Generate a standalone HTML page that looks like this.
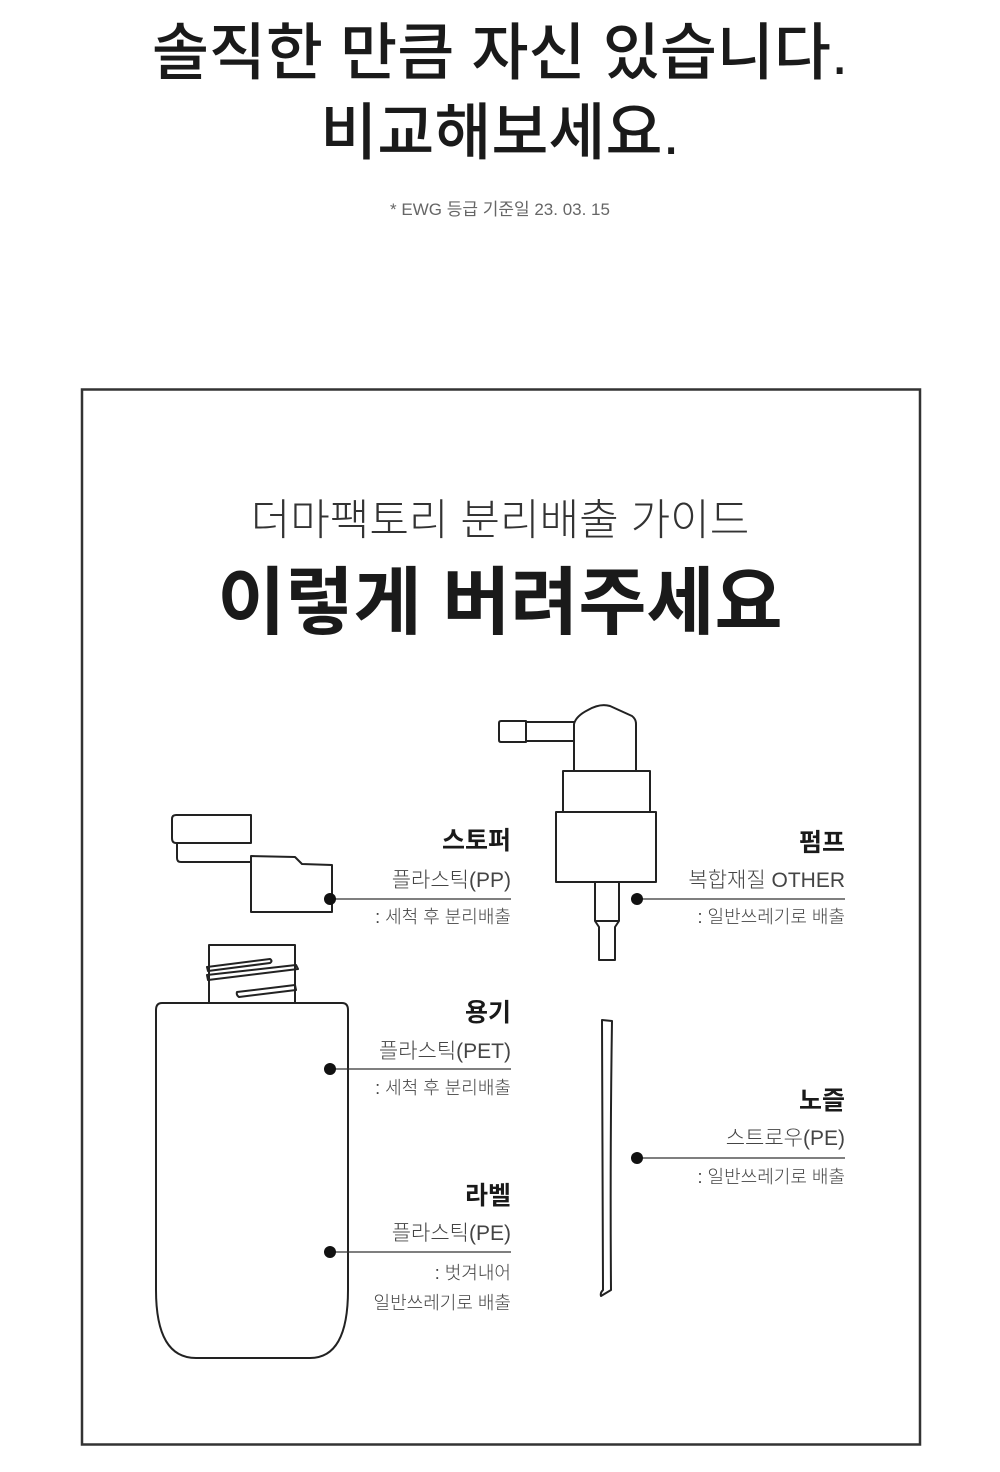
<!DOCTYPE html>
<html><head><meta charset="utf-8"><style>
html,body{margin:0;padding:0;background:#fff;}
svg{display:block;}
text{font-family:"Liberation Sans","Noto Sans CJK KR",sans-serif;}
</style></head><body>
<svg width="1000" height="1472" viewBox="0 0 1000 1472" xmlns="http://www.w3.org/2000/svg">
<g fill="#222" text-anchor="middle">
<text x="500" y="74" font-size="62" font-weight="500" fill="#1a1a1a">솔직한 만큼 자신 있습니다.</text>
<text x="500" y="154" font-size="62" font-weight="500" fill="#1a1a1a">비교해보세요.</text>
<text x="500" y="215" font-size="17" fill="#666">* EWG 등급 기준일  23. 03. 15</text>
</g>
<rect x="82" y="389.5" width="838" height="1055" fill="none" stroke="#333" stroke-width="2.5"/>
<g text-anchor="middle" fill="#222">
<text x="500" y="535" font-size="43" font-weight="300" fill="#333">더마팩토리 분리배출 가이드</text>
<text x="500" y="628" font-size="74" font-weight="700" fill="#1a1a1a">이렇게 버려주세요</text>
</g>
<g fill="none" stroke="#222" stroke-width="2" stroke-linejoin="round">
<path d="M176,815 H251 V843 H176 Q172,843 172,838 V819 Q172,815 176,815 Z"/>
<path d="M177,843 V858 Q177,862 181,862 H251"/>
<path d="M251,856 L295,857 L302,864 L332,865 V912 H251 Z"/>
<path d="M501,721 H526 V742 H501 Q499,742 499,740 V723 Q499,721 501,721 Z"/>
<path d="M526,722 H574 M526,741 H574"/>
<path d="M574,771 V724 Q576,716 588,710 Q600,703 610,706 L632,716 Q636,719 636,724 V771"/>
<path d="M563,771 H650 V812 H563 Z"/>
<path d="M556,812 H656 V882 H556 Z"/>
<path d="M595,882 V921 L599,927 V960 H615 V927 L619,921 V882"/>
<path d="M595,921 H619"/>
<path d="M209,1003 V945 H295 V1003"/>
<path d="M207,967 L270,959 Q273,961 270,963 L208,971 Z"/>
<path d="M207,975 L296,965 L298,969 L208,980 Z"/>
<path d="M237,992 L295,985 L296,990 L239,997 Q236,995 237,992 Z"/>
<path d="M162,1003 H342 Q348,1003 348,1010 V1290 Q348,1358 310,1358 H196 Q156,1358 156,1290 V1010 Q156,1003 162,1003 Z"/>
<path d="M602,1020 L612,1021 Q610,1150 611,1290 L601,1296 Q600,1293 603,1290 Q603,1150 602,1020 Z"/>
</g>
<g stroke="#333" stroke-width="1.2">
<line x1="330" y1="899" x2="511" y2="899"/>
<line x1="637" y1="899" x2="845" y2="899"/>
<line x1="330" y1="1069" x2="511" y2="1069"/>
<line x1="330" y1="1252" x2="511" y2="1252"/>
<line x1="637" y1="1158" x2="845" y2="1158"/>
</g>
<g fill="#111">
<circle cx="330" cy="899" r="6"/><circle cx="637" cy="899" r="6"/>
<circle cx="330" cy="1069" r="6"/><circle cx="330" cy="1252" r="6"/>
<circle cx="637" cy="1158" r="6"/>
</g>
<g text-anchor="end">
<g font-size="25" font-weight="700" fill="#1a1a1a">
<text x="511" y="849">스토퍼</text>
<text x="845" y="851">펌프</text>
<text x="511" y="1021">용기</text>
<text x="511" y="1204">라벨</text>
<text x="845" y="1109">노즐</text>
</g>
<g font-size="21" font-weight="300" fill="#444">
<text x="511" y="887">플라스틱(PP)</text>
<text x="845" y="887">복합재질 OTHER</text>
<text x="511" y="1058">플라스틱(PET)</text>
<text x="511" y="1240">플라스틱(PE)</text>
<text x="845" y="1145">스트로우(PE)</text>
</g>
<g font-size="18" font-weight="300" fill="#444">
<text x="511" y="923">: 세척 후 분리배출</text>
<text x="845" y="923">: 일반쓰레기로 배출</text>
<text x="511" y="1094">: 세척 후 분리배출</text>
<text x="511" y="1279">: 벗겨내어</text>
<text x="511" y="1309">일반쓰레기로 배출</text>
<text x="845" y="1183">: 일반쓰레기로 배출</text>
</g>
</g>
</svg>
</body></html>
